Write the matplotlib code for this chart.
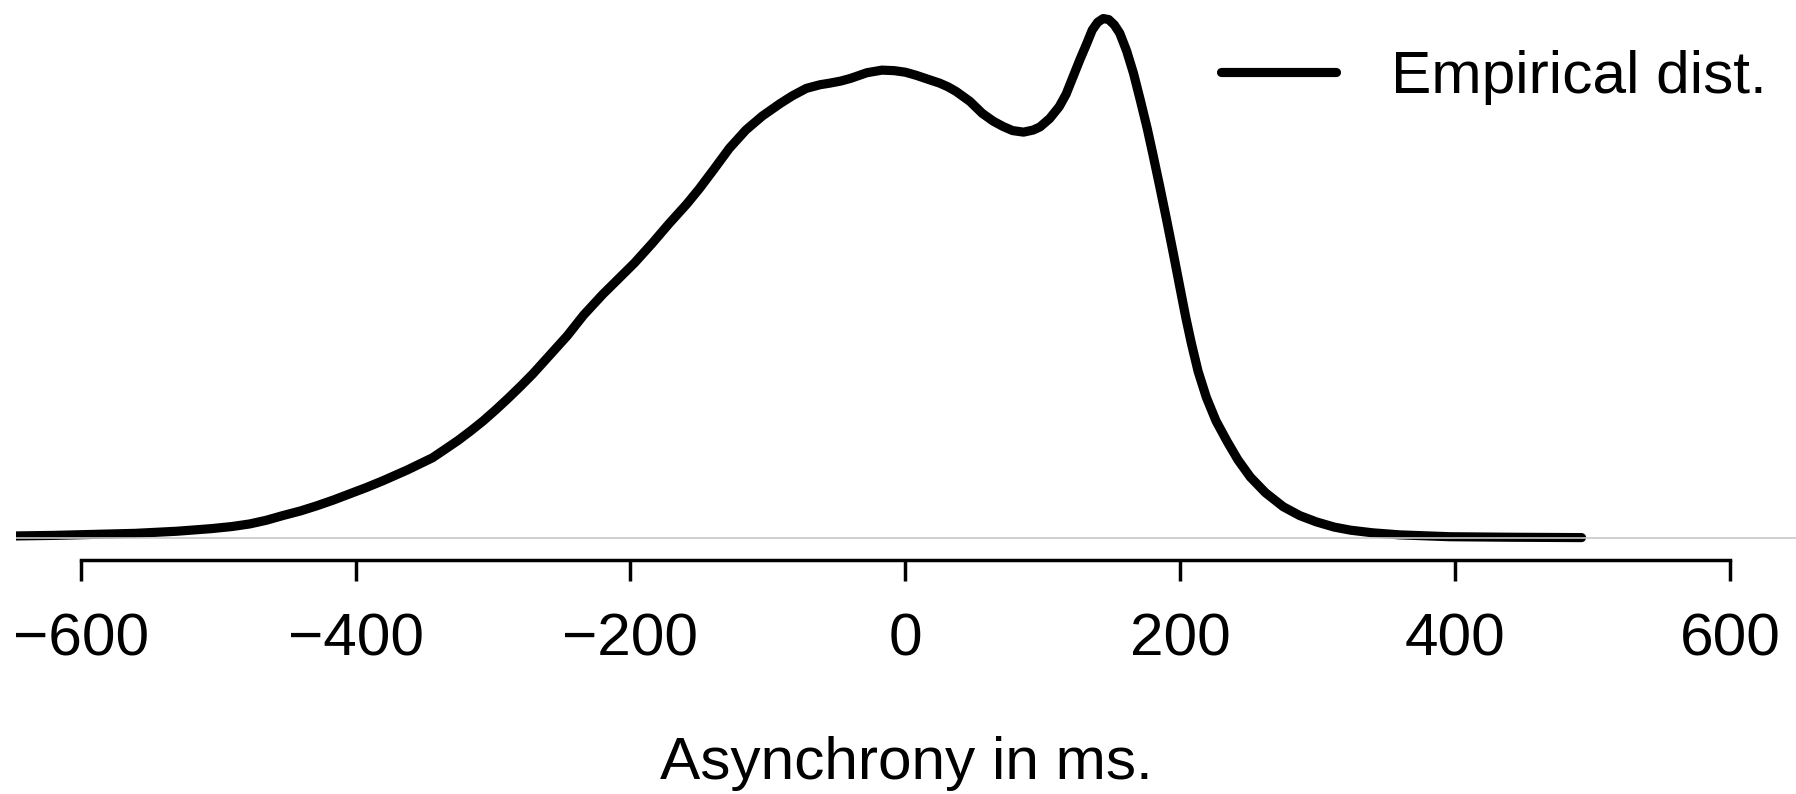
import matplotlib
matplotlib.use("Agg")
import matplotlib.pyplot as plt

# values (density scaled so the peak is 1)
asynchrony = [-647, -620, -590, -560, -530, -505, -490, -477, -465, -453,
              -440, -428, -416, -404, -392, -380, -362, -344, -335, -325,
              -316, -307, -298, -289, -280, -271, -259, -246, -234, -220,
              -210, -197, -184, -172, -159, -150, -140, -128, -116, -104,
              -91, -82, -72, -62, -55, -47, -40, -28, -17, -8,
              0, 8, 17, 25, 31, 37, 47, 56, 64, 71,
              78, 86, 93, 98, 105, 112, 117, 122, 127, 132,
              136, 140, 144, 148, 152, 156, 161, 166, 171, 176,
              180, 185, 190, 195, 200, 204, 208, 213, 219, 226,
              234, 242, 251, 262, 275, 287, 299, 312, 324, 340,
              360, 396, 440, 492]
density = [0.004, 0.005, 0.007, 0.009, 0.013, 0.018, 0.022, 0.027, 0.034, 0.043,
           0.052, 0.062, 0.073, 0.085, 0.097, 0.110, 0.131, 0.154, 0.170, 0.188,
           0.206, 0.225, 0.246, 0.268, 0.291, 0.315, 0.350, 0.388, 0.428, 0.468,
           0.494, 0.528, 0.566, 0.603, 0.641, 0.670, 0.705, 0.748, 0.783, 0.810,
           0.834, 0.849, 0.863, 0.870, 0.873, 0.877, 0.882, 0.893, 0.898, 0.897,
           0.894, 0.888, 0.880, 0.873, 0.866, 0.857, 0.838, 0.815, 0.800, 0.790,
           0.782, 0.779, 0.783, 0.789, 0.805, 0.828, 0.852, 0.885, 0.918, 0.949,
           0.975, 0.990, 0.997, 0.995, 0.985, 0.969, 0.935, 0.892, 0.840, 0.786,
           0.738, 0.676, 0.612, 0.546, 0.478, 0.424, 0.375, 0.320, 0.270, 0.225,
           0.186, 0.150, 0.117, 0.087, 0.060, 0.043, 0.031, 0.021, 0.015, 0.010,
           0.006, 0.0025, 0.0015, 0.0008]
xticks = [-600, -400, -200, 0, 200, 400, 600]

plt.rcParams['font.family'] = ['Liberation Sans', 'DejaVu Sans']
FS = 43.5

fig = plt.figure(figsize=(17.96, 7.94), dpi=100)
ax = fig.add_axes([16/1796, (794-545)/794, 1780/1796, 545/794])

ax.plot(asynchrony, density, color='black', lw=6.6, solid_capstyle='round',
        solid_joinstyle='round', label='Empirical dist.')
ax.axhline(0, color='#c8c8c8', lw=1.2, zorder=3)

ax.set_xlim(-647, 648)
ax.set_ylim(-0.0134, 1.0326)

for s in ['top', 'right', 'left']:
    ax.spines[s].set_visible(False)
ax.spines['bottom'].set_position(('outward', 10.8))
ax.spines['bottom'].set_bounds(-600, 600)
ax.spines['bottom'].set_linewidth(2.5)
ax.set_yticks([])
ax.set_xticks(xticks)
ax.tick_params(axis='x', length=15, width=2.5, pad=23, labelsize=FS)
ax.set_xlabel('Asynchrony in ms.', fontsize=FS, labelpad=49)

ax.legend(loc='upper right', bbox_to_anchor=(0.9837, 0.908), frameon=False,
          fontsize=FS, handlelength=1.9, handletextpad=0.92, borderpad=0,
          borderaxespad=0)

fig.savefig('out.png', dpi=100)
